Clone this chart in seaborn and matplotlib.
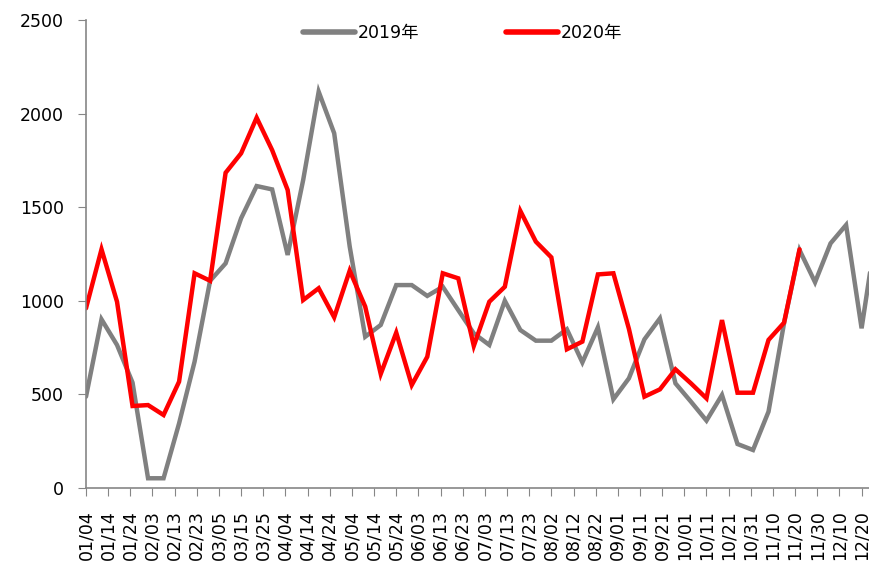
import matplotlib
matplotlib.use("Agg")
import matplotlib.pyplot as plt
import seaborn as sns
import pandas as pd
import numpy as np

# weekly observations, first one on 01/04
vals_2019 = [488, 901, 764, 563, 52, 52, 345, 675, 1107, 1200, 1441, 1613, 1595, 1245,
             1645, 2117, 1895, 1290, 808, 871, 1084, 1084, 1026, 1075, 950, 826, 764,
             1000, 844, 787, 787, 848, 671, 858, 474, 586, 794, 906, 559, 461, 360, 497,
             235, 203, 408, 880, 1271, 1099, 1307, 1405, 853, 1400]
vals_2020 = [960, 1275, 995, 438, 443, 390, 568, 1147, 1107, 1684, 1788, 1978, 1805, 1592,
             1004, 1067, 912, 1161, 969, 609, 830, 550, 701, 1147, 1120, 759, 995, 1075,
             1480, 1316, 1232, 741, 782, 1141, 1147, 850, 488, 527, 634, 559, 479, 897,
             509, 509, 791, 883, 1275]
tick_labels = ["01/04", "01/14", "01/24", "02/03", "02/13", "02/23", "03/05", "03/15",
               "03/25", "04/04", "04/14", "04/24", "05/04", "05/14", "05/24", "06/03",
               "06/13", "06/23", "07/03", "07/13", "07/23", "08/02", "08/12", "08/22",
               "09/01", "09/11", "09/21", "10/01", "10/11", "10/21", "10/31", "11/10",
               "11/20", "11/30", "12/10", "12/20"]
series_names = ["2019年", "2020年"]
colors = ["#808080", "#FF0000"]

rows = []
for name, vals in zip(series_names, [vals_2019, vals_2020]):
    for i, v in enumerate(vals):
        rows.append({"day": i * 7, "value": v, "series": name})
df = pd.DataFrame(rows)

sns.set_style("white")
plt.rcParams["font.family"] = ["DejaVu Sans", "Noto Sans CJK SC"]
plt.rcParams["text.color"] = "black"
plt.rcParams["xtick.color"] = "black"
plt.rcParams["ytick.color"] = "black"

fig = plt.figure(figsize=(8.70, 5.71), dpi=100)
ax = fig.add_axes([86 / 870, 1 - 488 / 571, 1 - 86 / 870, (488 - 20) / 571])

sns.lineplot(data=df, x="day", y="value", hue="series", palette=colors,
             linewidth=3.2, ax=ax, legend=True, sort=False)
for ln in ax.lines:
    ln.set_solid_joinstyle("miter")

ax.set_xlim(0, (870 - 86.7) / 2.214)
ax.set_ylim(0, 2500)
ax.set_yticks(np.arange(0, 2501, 500))
ax.set_xticks([10 * i for i in range(len(tick_labels))])
ax.set_xticklabels(tick_labels, rotation=90, fontsize=12.5)
ax.tick_params(axis="y", labelsize=12.5, length=6, color="#868686", direction="out",
               left=True, pad=10)
ax.tick_params(axis="x", length=6, color="#868686", direction="out", bottom=True, pad=10)
ax.set_xlabel("")
ax.set_ylabel("")
for s in ["top", "right"]:
    ax.spines[s].set_visible(False)
for s in ["left", "bottom"]:
    ax.spines[s].set_color("#868686")
    ax.spines[s].set_linewidth(1.2)

handles, labels = ax.get_legend_handles_labels()
leg = ax.legend(handles, labels, loc="center", bbox_to_anchor=(0.48, 0.972), ncol=2,
                frameon=False, handlelength=3.0, handletextpad=0.15,
                columnspacing=5.0, prop={"family": ["DejaVu Sans", "Noto Sans CJK SC"], "size": 12.5})
for lh in leg.get_lines():
    lh.set_linewidth(4)

fig.savefig("out.png", dpi=100)
